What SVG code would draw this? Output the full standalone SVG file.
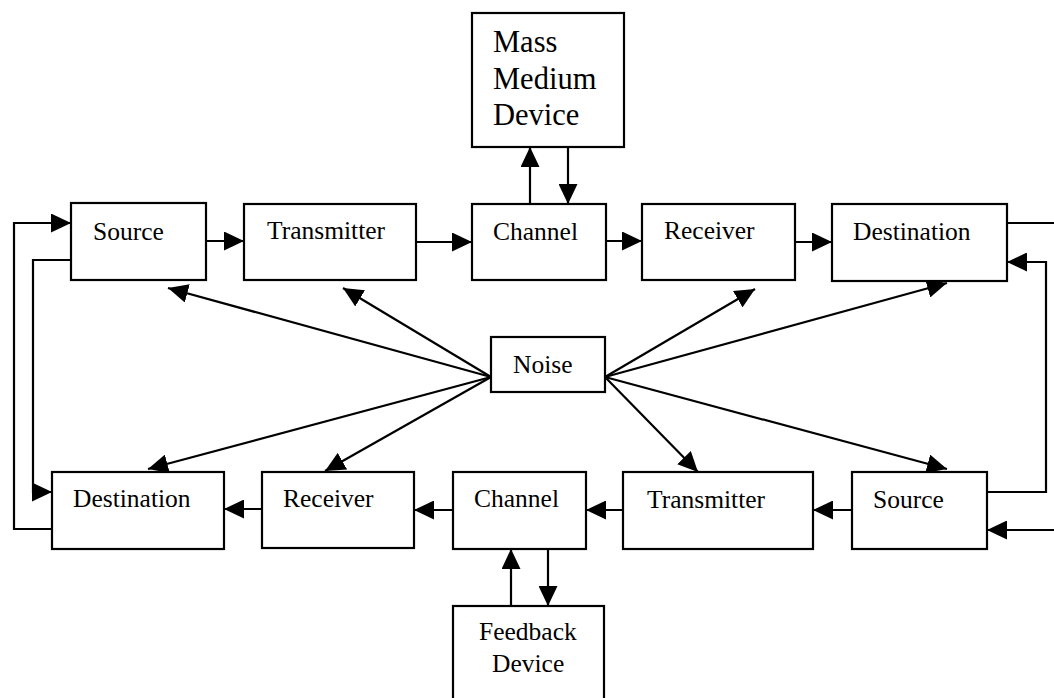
<svg xmlns="http://www.w3.org/2000/svg" width="1054" height="698" viewBox="0 0 1054 698">
<style>
.box{fill:#fff;stroke:#000;stroke-width:2.2}
.t{font-family:"Liberation Serif","Times New Roman",serif;font-size:25.5px;fill:#000}
.tm{font-family:"Liberation Serif","Times New Roman",serif;font-size:30.5px;fill:#000}
.c{fill:none;stroke:#000;stroke-width:2.2}
</style>
<defs>
<marker id="ah" markerUnits="userSpaceOnUse" markerWidth="20" markerHeight="19" refX="20" refY="9.5" orient="auto">
<path d="M0,0 L20,9.5 L0,19 z" fill="#000"/>
</marker>
</defs>
<rect width="1054" height="698" fill="#fff"/>
<g id="connectors">
<line class="c" x1="206" y1="241" x2="244" y2="241" marker-end="url(#ah)"/>
<line class="c" x1="416" y1="242" x2="472" y2="242" marker-end="url(#ah)"/>
<line class="c" x1="606" y1="241" x2="642" y2="241" marker-end="url(#ah)"/>
<line class="c" x1="795" y1="242" x2="832" y2="242" marker-end="url(#ah)"/>
<line class="c" x1="530" y1="204" x2="530" y2="147" marker-end="url(#ah)"/>
<line class="c" x1="568" y1="147" x2="568" y2="204" marker-end="url(#ah)"/>
<line class="c" x1="852" y1="510" x2="813" y2="510" marker-end="url(#ah)"/>
<line class="c" x1="623" y1="510" x2="586" y2="510" marker-end="url(#ah)"/>
<line class="c" x1="453" y1="510" x2="414" y2="510" marker-end="url(#ah)"/>
<line class="c" x1="262" y1="509" x2="224" y2="509" marker-end="url(#ah)"/>
<line class="c" x1="511" y1="606" x2="511" y2="549" marker-end="url(#ah)"/>
<line class="c" x1="548" y1="549" x2="548" y2="606" marker-end="url(#ah)"/>
<polyline class="c" points="52,529 14,529 14,223 71,223" marker-end="url(#ah)"/>
<polyline class="c" points="71,260 33,260 33,492 52,492" marker-end="url(#ah)"/>
<line class="c" x1="1007" y1="223" x2="1054" y2="223"/>
<polyline class="c" points="987,492 1046,492 1046,262 1007,262" marker-end="url(#ah)"/>
<line class="c" x1="1054" y1="530" x2="987" y2="530" marker-end="url(#ah)"/>
<line class="c" x1="491" y1="377" x2="168" y2="288" marker-end="url(#ah)"/>
<line class="c" x1="491" y1="377" x2="343" y2="288" marker-end="url(#ah)"/>
<line class="c" x1="491" y1="377" x2="148" y2="469" marker-end="url(#ah)"/>
<line class="c" x1="491" y1="377" x2="325" y2="471" marker-end="url(#ah)"/>
<line class="c" x1="605" y1="377" x2="755" y2="289" marker-end="url(#ah)"/>
<line class="c" x1="605" y1="377" x2="947" y2="283" marker-end="url(#ah)"/>
<line class="c" x1="605" y1="377" x2="698" y2="472" marker-end="url(#ah)"/>
<line class="c" x1="605" y1="377" x2="947" y2="469" marker-end="url(#ah)"/>
</g>
<g id="mass-medium"><rect class="box" x="472" y="13" width="152" height="134"/>
<text class="tm" x="493" y="52">Mass</text><text class="tm" x="493" y="89">Medium</text><text class="tm" x="493" y="125">Device</text></g>
<g id="source-top"><rect class="box" x="71" y="203" width="135" height="77"/><text class="t" x="93" y="240">Source</text></g>
<g id="transmitter-top"><rect class="box" x="244" y="204" width="172" height="76"/><text class="t" x="267" y="239">Transmitter</text></g>
<g id="channel-top"><rect class="box" x="472" y="204" width="134" height="76"/><text class="t" x="493" y="240">Channel</text></g>
<g id="receiver-top"><rect class="box" x="642" y="204" width="153" height="76"/><text class="t" x="664" y="239">Receiver</text></g>
<g id="destination-top"><rect class="box" x="832" y="204" width="175" height="77"/><text class="t" x="853" y="240">Destination</text></g>
<g id="noise"><rect class="box" x="491" y="337" width="114" height="55"/><text class="t" x="513" y="373">Noise</text></g>
<g id="destination-bottom"><rect class="box" x="52" y="472" width="172" height="77"/><text class="t" x="73" y="507">Destination</text></g>
<g id="receiver-bottom"><rect class="box" x="262" y="472" width="152" height="76"/><text class="t" x="283" y="507">Receiver</text></g>
<g id="channel-bottom"><rect class="box" x="453" y="472" width="133" height="77"/><text class="t" x="474" y="507">Channel</text></g>
<g id="transmitter-bottom"><rect class="box" x="623" y="472" width="190" height="77"/><text class="t" x="647" y="508">Transmitter</text></g>
<g id="source-bottom"><rect class="box" x="852" y="472" width="135" height="77"/><text class="t" x="873" y="508">Source</text></g>
<g id="feedback"><rect class="box" x="453" y="606" width="151" height="110"/>
<text class="t" x="479" y="640">Feedback</text><text class="t" x="492" y="672">Device</text></g>
</svg>
